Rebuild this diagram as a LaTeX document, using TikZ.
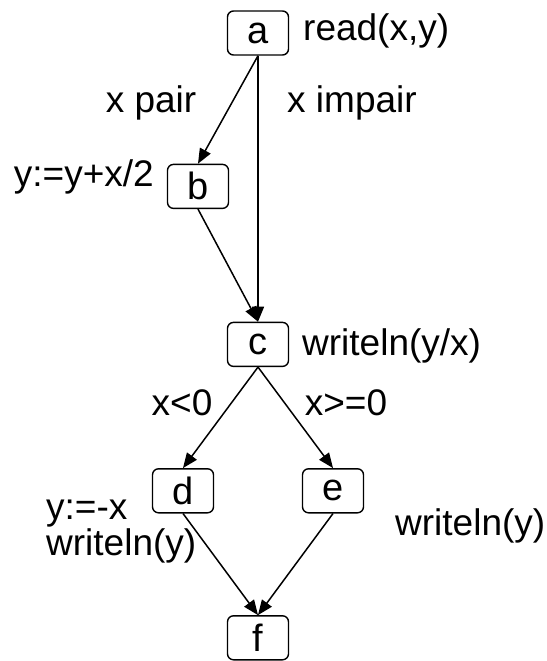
\documentclass[tikz,border=0pt]{standalone}
\usepackage{fontspec}
\setmainfont{Liberation Sans}
\usepackage{tikz}
\usetikzlibrary{positioning,arrows.meta}
\tikzset{
  block-node/.style={draw=black, line width=1.4pt, rounded corners=6pt,
    minimum width=61pt, minimum height=44pt, inner sep=0pt,
    font=\fontsize{38}{26}\selectfont},
  flow-arrow/.style={-{Triangle[length=15pt,width=12pt]}, line width=1.5pt, draw=black},
  note-text/.style={inner sep=0pt, font=\fontsize{37}{25}\selectfont},
  cond-text/.style={inner sep=0pt, anchor=base, font=\fontsize{37}{25}\selectfont}
}
\begin{document}
\begin{tikzpicture}[x=1pt, y=1pt]
\useasboundingbox (0,0) rectangle (546,-661);
% Program points
\node[block-node] (a) at (258,-33) {a};
\node[block-node, below=108pt of a, xshift=-60pt] (b) {b};
\node[block-node, below=266pt of a] (c) {c};
\node[block-node, below=101pt of c, xshift=-75pt] (d) {d};
\node[block-node, below=101pt of c, xshift=75pt] (e) {e};
\node[block-node, below=248pt of c] (f) {f};

% Control flow
\draw[flow-arrow] (a.south) -- (b.north);
\draw[flow-arrow] (a.south) -- (c.north);
\draw[flow-arrow] (b.south) -- (c.north);
\draw[flow-arrow] (c.south) -- (d.north);
\draw[flow-arrow] (c.south) -- (e.north);
\draw[flow-arrow] (d.south) -- (f.north);
\draw[flow-arrow] (e.south) -- (f.north);

% Branch conditions
\node[cond-text] (pair) at (151,-112) {x pair};
\node[cond-text] (impair) at (352,-112) {x impair};
\node[cond-text] (neg) at (182,-415) {x<0};
\node[cond-text] (pos) at (346,-415) {x>=0};

% Statements
\node[note-text, anchor=base west] (sa) at (303,-41) {read(x,y)};
\node[note-text, anchor=base east] (sb) at (154,-186) {y:=y+x/2};
\node[note-text, anchor=base west] (sc) at (302,-355) {writeln(y/x)};
\node[note-text, anchor=north west, align=left] (sd) at (46,-500) {y:=-x\\writeln(y)};
\node[note-text, anchor=base west] (se) at (395,-535) {writeln(y)};
\end{tikzpicture}
\end{document}
